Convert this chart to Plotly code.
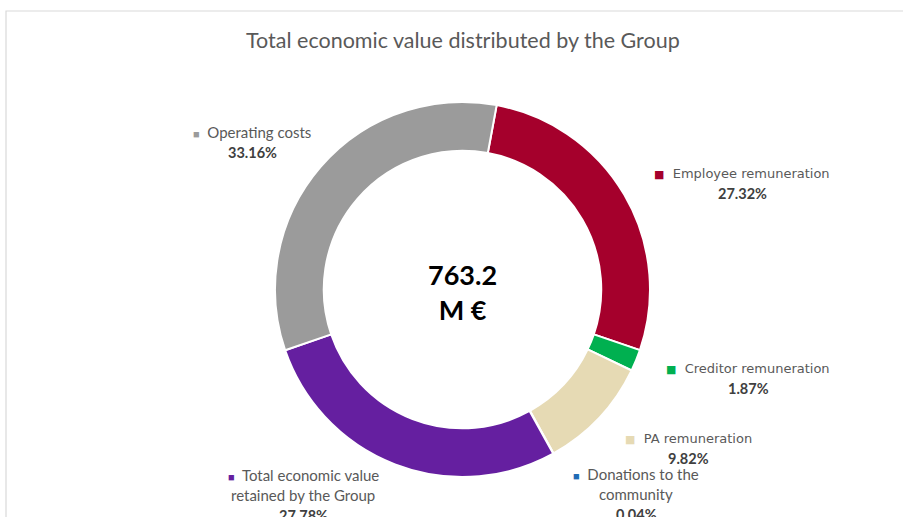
import plotly.graph_objects as go

# ---- data ----
categories = ["Employee remuneration", "Creditor remuneration", "PA remuneration",
              "Donations to the community", "Total economic value retained by the Group",
              "Operating costs"]
label_lines = [["Employee remuneration"], ["Creditor remuneration"], ["PA remuneration"],
               ["Donations to the", "community"], ["Total economic value", "retained by the Group"],
               ["Operating costs"]]
values = [27.32, 1.87, 9.82, 0.04, 27.78, 33.16]
total_value = "763.2"
total_unit = "M €"
title_text = "Total economic value distributed by the Group"

# ---- style / layout ----
W, H = 903, 517
colors = ["#a5002c", "#00b050", "#e6dab4", "#1f6bb5", "#651fa0", "#9b9b9b"]
cx, cy, R = 462.5, 289.5, 187.5
label_pos = [(742, 173), (748, 368), (688, 438), (636, 474), (303, 475), (252, 132)]
label_fonts = ["DejaVu Sans", "DejaVu Sans", "DejaVu Sans", "Lato", "Lato", "Lato"]
label_sizes = [13, 13, 13, 15, 15, 15]
line_step = 20


def px(x):
    return x / W


def py(y):
    return 1 - y / H


fig = go.Figure(go.Pie(
    labels=categories,
    values=values,
    hole=0.74,
    sort=False,
    direction="clockwise",
    rotation=10.5,
    marker=dict(colors=colors, line=dict(color="white", width=2)),
    textinfo="none",
    hoverinfo="label+percent",
    showlegend=False,
    domain=dict(x=[px(cx - R), px(cx + R)], y=[py(cy + R), py(cy - R)]),
))

annotations = []
for lines, val, col, (lx, ly), fnt, fs in zip(label_lines, values, colors, label_pos,
                                              label_fonts, label_sizes):
    rows = []
    for i, ln in enumerate(lines):
        if i == 0:
            rows.append((f'<span style="color:{col};font-size:11px">■</span>  {ln}',
                         "#595959", fnt, fs))
        else:
            rows.append((ln, "#595959", fnt, fs))
    rows.append((f"<b>{val:.2f}%</b>", "#404040", "Lato", 14.5))
    for i, (t, c, f, s) in enumerate(rows):
        annotations.append(dict(
            x=px(lx), y=py(ly + i * line_step), xref="paper", yref="paper", text=t,
            showarrow=False, xanchor="center", yanchor="middle",
            font=dict(family=f, size=s, color=c),
        ))

annotations.append(dict(
    x=px(cx), y=py(cy + 2), xref="paper", yref="paper",
    text=f"<b>{total_value}<br>{total_unit}</b>", showarrow=False,
    xanchor="center", yanchor="middle", align="center",
    font=dict(family="Lato", size=27, color="#000000"),
))

annotations.append(dict(
    x=px(cx), y=py(40), xref="paper", yref="paper", text=title_text, showarrow=False,
    xanchor="center", yanchor="middle",
    font=dict(family="Lato", size=21.5, color="#595959"),
))

fig.update_layout(
    width=W, height=H,
    margin=dict(l=0, r=0, t=0, b=0),
    paper_bgcolor="white", plot_bgcolor="white",
    annotations=annotations,
    shapes=[dict(type="rect", xref="paper", yref="paper",
                 x0=px(6), x1=px(W + 10), y0=py(H + 10), y1=py(11),
                 line=dict(color="#d9d9d9", width=1.2))],
)

fig.write_html("out.html", config={"displayModeBar": False},
               post_script="document.body.style.margin='0';")
